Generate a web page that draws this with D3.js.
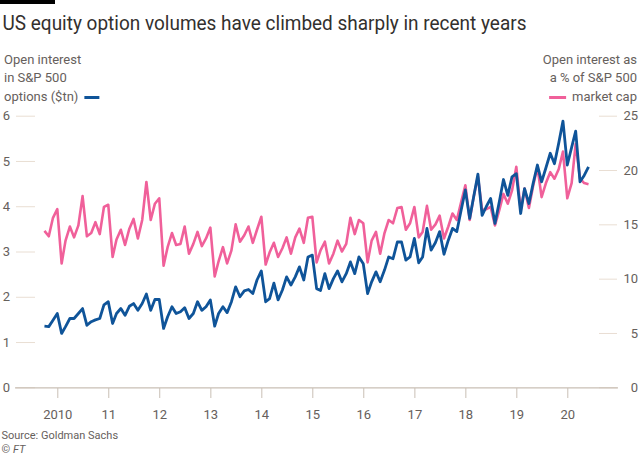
<!DOCTYPE html>
<html><head><meta charset="utf-8">
<script src="https://cdn.jsdelivr.net/npm/d3@7"></script>
<style>
body{margin:0;background:#fff}
svg{display:block}
text{font-family:Roboto,"Open Sans",sans-serif}
</style>
</head><body><svg id="c" width="640" height="457"></svg>
<script>
// ---- data (monthly, from Oct 2009) ----
const startMonth = "2009-10";
const openInterest = [
1.35,1.34,1.48,1.63,1.19,1.34,1.52,1.52,1.63,1.74,
1.37,1.45,1.49,1.52,1.82,1.89,1.41,1.63,1.74,1.59,
1.79,1.85,1.70,1.85,2.06,1.70,1.94,1.94,1.30,1.56,
1.78,1.63,1.67,1.76,1.52,1.63,1.89,1.70,1.78,1.93,
1.35,1.63,1.78,1.65,1.89,2.22,2.00,2.13,2.16,2.07,
2.37,2.57,1.89,1.96,2.30,1.93,2.15,2.44,2.26,2.44,
2.66,2.37,2.88,2.92,2.18,2.14,2.51,2.18,2.40,2.57,
2.33,2.51,2.77,2.51,2.88,2.73,2.07,2.33,2.55,2.33,
2.59,2.88,2.84,3.21,3.21,2.81,2.88,3.29,2.75,2.88,
3.51,3.03,3.20,3.44,2.94,3.25,3.51,3.44,3.90,4.36,
3.73,4.20,4.71,3.80,4.00,4.17,3.62,4.10,4.59,4.24,
4.65,4.72,3.84,4.39,4.06,4.50,4.91,4.54,4.85,5.17,
4.94,5.40,5.88,4.91,5.30,5.66,4.54,4.68,4.87
];
const pctMarketCap = [
14.4,13.9,15.6,16.4,11.4,13.5,14.8,13.8,14.9,17.6,
13.9,14.2,15.2,14.1,16.6,16.8,12.0,13.6,14.5,13.1,
14.6,15.5,13.7,15.4,18.9,15.4,16.9,17.4,11.2,12.9,
14.2,13.1,13.2,14.8,12.3,13.2,14.3,13.0,13.7,14.7,
10.2,11.6,12.9,11.4,12.6,15.0,13.4,14.0,14.8,13.3,
14.5,15.7,11.3,12.4,13.3,12.0,12.8,13.8,12.3,13.8,
14.6,13.3,15.6,15.7,11.5,12.6,13.4,11.4,12.3,13.5,
12.5,13.2,15.6,14.1,15.4,15.1,11.5,13.5,14.3,12.3,
14.2,15.4,15.1,16.5,16.6,14.5,15.1,16.6,13.8,14.3,
16.7,14.5,15.0,15.8,13.7,14.8,16.0,15.4,17.0,18.6,
15.4,17.5,19.4,16.3,16.4,16.6,14.9,16.3,17.8,16.9,
18.1,20.3,16.3,18.3,16.5,18.5,20.3,17.5,18.8,19.8,
19.2,20.1,21.7,17.4,18.8,22.4,19.2,18.8,18.7
];
const yearTicks = [2010,2011,2012,2013,2014,2015,2016,2017,2018,2019,2020];
const yearLabels = ["2010","11","12","13","14","15","16","17","18","19","20"];
const leftTicks = [0,1,2,3,4,5,6];
const rightTicks = [0,5,10,15,20,25];

const title = "US equity option volumes have climbed sharply in recent years";
const leftLegend = ["Open interest","in S&P 500","options ($tn)"];
const rightLegend = ["Open interest as","a % of S&P 500","market cap"];
const source = "Source: Goldman Sachs";

// ---- styles ----
const BLUE = "#0f5499", PINK = "#f0609a", TXT = "#66605c", GRID = "#e9ded3", BASE = "#c9bfb5";

const svg = d3.select("#c");
const parseM = d3.timeParse("%Y-%m");
const t0 = parseM(startMonth);
const dates = openInterest.map((_, i) => d3.timeMonth.offset(t0, i));

const x = d3.scaleTime()
  .domain([new Date(2010,0,1), new Date(2020,0,1)])
  .range([57.3, 567.3]);
const yL = d3.scaleLinear().domain([0,6]).range([387.3, 115.7]);
const yR = d3.scaleLinear().domain([0,25]).range([387.3, 115.7]);

// top bar
svg.append("rect").attr("x",0).attr("y",0).attr("width",55).attr("height",4).attr("fill","#000");

// title
const tt = svg.append("text").attr("x",2.5).attr("y",29.5)
  .attr("font-size",20).attr("fill","#33302e").text(title);
const tw = tt.node().getComputedTextLength();
if (Math.abs(tw - 524) > 4) tt.attr("textLength",524).attr("lengthAdjust","spacingAndGlyphs");

// legends
const lg = svg.append("g").attr("fill",TXT).attr("font-size",13);
leftLegend.forEach((s,i)=>{
  lg.append("text").attr("x",4).attr("y",64+i*18.4).text(s);
});
const lastL = lg.selectAll("text").filter((d,i)=>i===2).node();
const lw = lastL.getComputedTextLength();
svg.append("line").attr("x1",4+lw+6).attr("x2",4+lw+21).attr("y1",97.5).attr("y2",97.5)
  .attr("stroke",BLUE).attr("stroke-width",3);

rightLegend.forEach((s,i)=>{
  lg.append("text").attr("x",637).attr("y",64+i*18.4).attr("text-anchor","end").text(s);
});
const lastR = lg.selectAll("text").filter((d,i)=>i===5).node();
const rw = lastR.getComputedTextLength();
svg.append("line").attr("x1",637-rw-23).attr("x2",637-rw-6).attr("y1",97.5).attr("y2",97.5)
  .attr("stroke",PINK).attr("stroke-width",3);

// left axis stubs
const la = svg.append("g").attr("transform","translate(35,0)")
  .call(d3.axisLeft(yL).tickValues(leftTicks).tickSize(19).tickPadding(6).tickFormat(d3.format("d")));
la.select(".domain").remove();
la.selectAll("line").attr("stroke",GRID).attr("stroke-width",1);
la.selectAll("text").attr("fill",TXT).attr("font-size",13).attr("font-family","Roboto,'Open Sans',sans-serif");

// right axis stubs
const ra = svg.append("g").attr("transform","translate(599,0)")
  .call(d3.axisRight(yR).tickValues(rightTicks).tickSize(18).tickPadding(6).tickFormat(d3.format("d")));
ra.select(".domain").remove();
ra.selectAll("line").attr("stroke",GRID).attr("stroke-width",1);
ra.selectAll("text").attr("fill",TXT).attr("font-size",13).attr("text-anchor","end").attr("x",39)
  .attr("font-family","Roboto,'Open Sans',sans-serif");

// x axis
const xa = svg.append("g").attr("transform","translate(0,388)")
  .call(d3.axisBottom(x).tickValues(yearTicks.map(y=>new Date(y,0,1))).tickSize(10).tickPadding(12)
    .tickFormat((d,i)=>yearLabels[i]));
xa.select(".domain").remove();
xa.selectAll("line").attr("stroke",BASE).attr("stroke-width",1);
xa.selectAll("text").attr("fill",TXT).attr("font-size",13).attr("font-family","Roboto,'Open Sans',sans-serif");
svg.append("line").attr("x1",15).attr("x2",618).attr("y1",yL(0)+0.5).attr("y2",yL(0)+0.5)
  .attr("stroke",BASE).attr("stroke-width",1.2);

// lines
const linePink = d3.line().x((d,i)=>x(dates[i])).y(d=>yR(d)).curve(d3.curveLinear);
const lineBlue = d3.line().x((d,i)=>x(dates[i])).y(d=>yL(d)).curve(d3.curveLinear);
svg.append("path").datum(pctMarketCap).attr("d",linePink).attr("fill","none")
  .attr("stroke",PINK).attr("stroke-width",2.6).attr("stroke-linejoin","round");
svg.append("path").datum(openInterest).attr("d",lineBlue).attr("fill","none")
  .attr("stroke",BLUE).attr("stroke-width",2.8).attr("stroke-linejoin","round");

// source
svg.append("text").attr("x",1.5).attr("y",439).attr("font-size",11).attr("fill",TXT).text(source);
const cp = svg.append("text").attr("x",1.5).attr("y",453).attr("font-size",11).attr("fill",TXT);
cp.append("tspan").text("© ");
cp.append("tspan").attr("font-style","italic").text("FT");
</script>
</body></html>
